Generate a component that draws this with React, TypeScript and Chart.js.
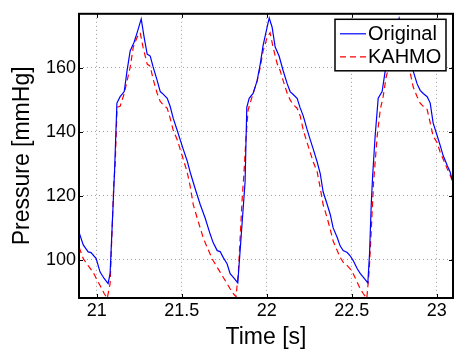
import React, { useEffect, useRef } from "react";
import { Chart, registerables } from "chart.js";

Chart.register(...registerables);

// Time axis [s] for the original signal
const originalTime = [
  20.896, 20.92, 20.949, 20.966, 20.996, 21.019, 21.043, 21.066, 21.078, 21.104,
  21.118, 21.137, 21.161, 21.178, 21.196, 21.219, 21.237, 21.261, 21.278, 21.296,
  21.314, 21.331, 21.355, 21.373, 21.39, 21.414, 21.431, 21.449, 21.472, 21.49,
  21.508, 21.531, 21.549, 21.578, 21.608, 21.637, 21.667, 21.684, 21.708, 21.725,
  21.743, 21.766, 21.784, 21.802, 21.829, 21.872, 21.882, 21.896, 21.919, 21.943,
  21.961, 21.978, 22.002, 22.014, 22.031, 22.049, 22.072, 22.096, 22.12, 22.137,
  22.155, 22.178, 22.196, 22.214, 22.237, 22.255, 22.273, 22.296, 22.314, 22.331,
  22.355, 22.373, 22.39, 22.414, 22.431, 22.449, 22.473, 22.49, 22.508, 22.531,
  22.549, 22.567, 22.594, 22.604, 22.614, 22.622, 22.637, 22.655, 22.678, 22.696,
  22.725, 22.755, 22.778, 22.802, 22.831, 22.861, 22.884, 22.902, 22.92, 22.943,
  22.961, 22.978, 23.002, 23.02, 23.037, 23.061, 23.078, 23.096,
];
const originalPressure = [
  108.5, 104.7, 102.5, 102.3, 100.4, 96.2, 94.2, 92.6, 95.8, 127.5,
  149, 151, 152.6, 159.2, 165.3, 168, 171, 175.3, 169.6, 164.3,
  163.7, 160.3, 156, 152.6, 151.8, 150.5, 148, 144.3, 140.6, 137.6,
  134.6, 131, 127.4, 122.3, 117.3, 113.1, 108, 105.4, 102.9, 102.6,
  100.8, 98.8, 95.7, 94.6, 92.8, 124.4, 147.7, 150.5, 152, 156,
  161.2, 167, 172.8, 175.6, 172.7, 166.5, 163.7, 159.1, 155, 152.6,
  151.7, 150.5, 147.5, 145, 140.7, 137.6, 134.6, 130.6, 127, 121.3,
  117.3, 114.2, 110, 107, 104.4, 102.9, 102.3, 101.3, 99.8, 97.3,
  95.8, 94.6, 92.8, 101.9, 117.3, 126, 138.7, 150.5, 152.6, 159,
  165, 171, 175.5, 170, 164, 159, 155, 153, 152, 151,
  149, 142.8, 138.8, 135.7, 132.6, 129.5, 127.5, 124,
];

// Time axis [s] for the KAHMO estimate
const kahmoTime = [
  20.896, 20.92, 20.949, 20.978, 21.002, 21.019, 21.043, 21.061, 21.078, 21.088,
  21.1, 21.108, 21.119, 21.137, 21.161, 21.178, 21.196, 21.214, 21.237, 21.255,
  21.272, 21.296, 21.314, 21.331, 21.355, 21.373, 21.39, 21.414, 21.431, 21.449,
  21.472, 21.49, 21.508, 21.531, 21.549, 21.567, 21.59, 21.608, 21.625, 21.649,
  21.667, 21.684, 21.708, 21.725, 21.743, 21.766, 21.784, 21.802, 21.819, 21.833,
  21.843, 21.855, 21.864, 21.878, 21.89, 21.902, 21.919, 21.943, 21.961, 21.978,
  22.002, 22.019, 22.037, 22.061, 22.078, 22.096, 22.12, 22.137, 22.155, 22.178,
  22.196, 22.214, 22.237, 22.255, 22.273, 22.296, 22.314, 22.331, 22.355, 22.373,
  22.39, 22.414, 22.431, 22.449, 22.473, 22.49, 22.508, 22.531, 22.549, 22.567,
  22.588, 22.602, 22.614, 22.628, 22.649, 22.667, 22.684, 22.702, 22.731, 22.761,
  22.784, 22.808, 22.837, 22.861, 22.884, 22.902, 22.92, 22.943, 22.961, 22.978,
  23.002, 23.02, 23.037, 23.061, 23.078, 23.096,
];
const kahmoPressure = [
  103.9, 100.4, 98.2, 96.2, 93.6, 92, 89.5, 88, 92.6, 107,
  124.4, 130, 147.7, 148, 152, 156, 160.2, 166.4, 169.6, 171,
  166.4, 161.2, 160.5, 156.5, 152, 149.5, 148.5, 147.4, 144.3, 140.6,
  137.6, 134.6, 131.5, 127.5, 123, 117.3, 113.1, 110, 107, 103.9,
  101.8, 99.8, 97.7, 96.2, 94.6, 92.6, 91, 89.5, 88.5, 96.7,
  107, 119.3, 126, 138.7, 146.9, 149, 152, 156, 160.2, 165.3,
  169.6, 171, 166.4, 161.2, 159.2, 156, 152, 150, 148.5, 147.4,
  145, 140.6, 136.6, 133.6, 130.6, 127.5, 122.5, 117.3, 113.1, 109.5,
  105.9, 102.9, 100.8, 99.3, 98.2, 97.2, 95.7, 93.1, 91, 89.5,
  88, 96.7, 109, 124.4, 138.7, 146.9, 151, 157.2, 163, 168.5,
  171, 166, 160, 154, 151, 149, 148, 147, 142.8, 138.7,
  136.6, 133.6, 131.5, 128.5, 126.5, 124,
];

const xTicks = [21, 21.5, 22, 22.5, 23];
const yTicks = [100, 120, 140, 160];
const seriesLabels = ["Original", "KAHMO"];

const FONT = "'Liberation Sans', Arial, Helvetica, sans-serif";

const framePlugin = {
  id: "matlabFrame",
  afterDraw(chart: any) {
    const { ctx, chartArea } = chart;
    const { left, right, top, bottom } = chartArea;
    const xs = chart.scales.x;
    const ys = chart.scales.y;
    ctx.save();
    // inward ticks
    ctx.strokeStyle = "#000";
    ctx.lineWidth = 1;
    ctx.setLineDash([]);
    const tl = 4;
    xs.ticks.forEach((t: any) => {
      const px = Math.round(xs.getPixelForValue(t.value)) + 0.5;
      ctx.beginPath();
      ctx.moveTo(px, bottom);
      ctx.lineTo(px, bottom - tl);
      ctx.moveTo(px, top);
      ctx.lineTo(px, top + tl);
      ctx.stroke();
    });
    ys.ticks.forEach((t: any) => {
      const py = Math.round(ys.getPixelForValue(t.value)) + 0.5;
      ctx.beginPath();
      ctx.moveTo(left, py);
      ctx.lineTo(left + tl, py);
      ctx.moveTo(right, py);
      ctx.lineTo(right - tl, py);
      ctx.stroke();
    });
    // frame
    ctx.lineWidth = 2;
    ctx.strokeRect(left, top, right - left, bottom - top);

    // legend
    const bx = right - 118;
    const by = top + 5.5;
    const bw = 111;
    const bh = 51.5;
    ctx.fillStyle = "#fff";
    ctx.fillRect(bx, by, bw, bh);
    ctx.lineWidth = 1.5;
    ctx.strokeStyle = "#000";
    ctx.strokeRect(bx, by, bw, bh);
    ctx.font = `20px ${FONT}`;
    ctx.textBaseline = "middle";
    ctx.textAlign = "left";
    chart.data.datasets.forEach((ds: any, i: number) => {
      const ry = by + 14.5 + i * 23;
      ctx.beginPath();
      ctx.strokeStyle = ds.borderColor;
      ctx.lineWidth = ds.borderWidth;
      ctx.setLineDash(ds.borderDash || []);
      ctx.moveTo(bx + 5, ry);
      ctx.lineTo(bx + 31, ry);
      ctx.stroke();
      ctx.setLineDash([]);
      ctx.fillStyle = "#000";
      ctx.fillText(ds.label, bx + 33, ry + 1);
    });
    ctx.restore();
  },
};

export default function App() {
  const ref = useRef<HTMLCanvasElement | null>(null);
  useEffect(() => {
    if (!ref.current) return;
    document.body.style.margin = "0";
    const chart = new Chart(ref.current, {
      type: "line",
      data: {
        datasets: [
          {
            label: seriesLabels[0],
            data: originalTime.map((t, i) => ({ x: t, y: originalPressure[i] })),
            borderColor: "#0000ff",
            borderWidth: 1.2,
            pointRadius: 0,
            tension: 0,
            fill: false,
          },
          {
            label: seriesLabels[1],
            data: kahmoTime.map((t, i) => ({ x: t, y: kahmoPressure[i] })),
            borderColor: "#ff0000",
            borderWidth: 1.2,
            borderDash: [6, 4],
            pointRadius: 0,
            tension: 0,
            fill: false,
          },
        ],
      },
      options: {
        animation: false,
        responsive: false,
        events: [],
        layout: { padding: { left: 0, right: 1, top: 9, bottom: 0 } },
        plugins: { legend: { display: false }, tooltip: { enabled: false } },
        scales: {
          x: {
            type: "linear",
            min: 20.895,
            max: 23.095,
            afterBuildTicks: (s: any) => {
              s.ticks = xTicks.map((v) => ({ value: v }));
            },
            afterFit: (s: any) => {
              s.height = 51;
            },
            ticks: {
              color: "#000",
              font: { family: FONT, size: 18 },
              padding: 2,
              maxRotation: 0,
              autoSkip: false,
              callback: (v: any) => String(v),
            },
            grid: { color: "rgba(0,0,0,0.38)", lineWidth: 1, drawTicks: false },
            border: { display: false, dash: [1, 3] },
            title: {
              display: true,
              text: "Time [s]",
              color: "#000",
              font: { family: FONT, size: 23 },
              padding: { top: 0, bottom: -2 },
            },
          },
          y: {
            type: "linear",
            min: 88.1,
            max: 176.9,
            afterBuildTicks: (s: any) => {
              s.ticks = yTicks.map((v) => ({ value: v }));
            },
            afterFit: (s: any) => {
              s.width = 79;
            },
            ticks: {
              color: "#000",
              font: { family: FONT, size: 18 },
              padding: 3,
              autoSkip: false,
              callback: (v: any) => String(v),
            },
            grid: { color: "rgba(0,0,0,0.38)", lineWidth: 1, drawTicks: false },
            border: { display: false, dash: [1, 3] },
            title: {
              display: true,
              text: "Pressure [mmHg]",
              color: "#000",
              font: { family: FONT, size: 23 },
              padding: { top: 9, bottom: 0 },
            },
          },
        },
      },
      plugins: [framePlugin],
    });
    return () => chart.destroy();
  }, []);
  return (
    <div style={{ position: "absolute", left: 0, top: 0, width: 454, height: 349 }}>
      <canvas ref={ref} width={454} height={349} style={{ display: "block", width: 454, height: 349 }} />
    </div>
  );
}
